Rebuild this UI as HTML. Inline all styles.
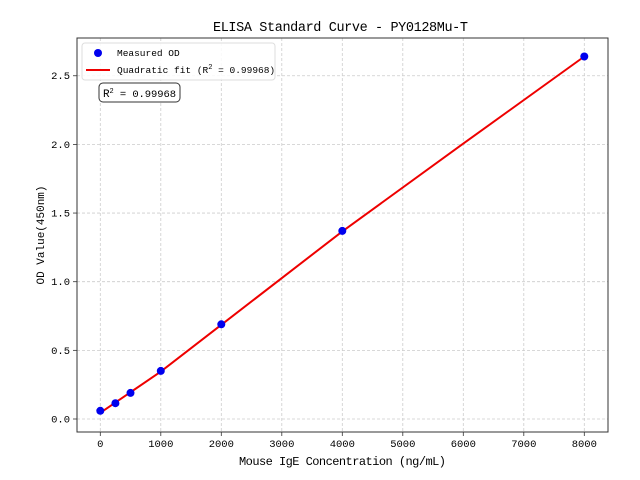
<!DOCTYPE html>
<html><head><meta charset="utf-8"><style>
body{margin:0;background:#fff}
svg{display:block}
text{font-family:"Liberation Mono","WenQuanYi Zen Hei",monospace;fill:#000}
</style></head><body>
<svg width="640" height="480" viewBox="0 0 640 480" xmlns="http://www.w3.org/2000/svg">
<rect width="640" height="480" fill="#fff"/>
<g stroke="#ccc" stroke-width="0.8" stroke-dasharray="3,2">
<line x1="100.3" y1="38" x2="100.3" y2="432"/><line x1="160.8" y1="38" x2="160.8" y2="432"/>
<line x1="221.3" y1="38" x2="221.3" y2="432"/><line x1="281.8" y1="38" x2="281.8" y2="432"/>
<line x1="342.3" y1="38" x2="342.3" y2="432"/><line x1="402.8" y1="38" x2="402.8" y2="432"/>
<line x1="463.3" y1="38" x2="463.3" y2="432"/><line x1="523.8" y1="38" x2="523.8" y2="432"/>
<line x1="584.3" y1="38" x2="584.3" y2="432"/>
<line x1="77" y1="419" x2="608" y2="419"/><line x1="77" y1="350.35" x2="608" y2="350.35"/>
<line x1="77" y1="281.7" x2="608" y2="281.7"/><line x1="77" y1="213.05" x2="608" y2="213.05"/>
<line x1="77" y1="144.4" x2="608" y2="144.4"/><line x1="77" y1="75.75" x2="608" y2="75.75"/>
</g>
<rect x="77" y="38" width="531" height="394" fill="none" stroke="#333" stroke-width="1"/>
<g stroke="#333" stroke-width="0.8">
<line x1="100.3" y1="432" x2="100.3" y2="436"/><line x1="160.8" y1="432" x2="160.8" y2="436"/>
<line x1="221.3" y1="432" x2="221.3" y2="436"/><line x1="281.8" y1="432" x2="281.8" y2="436"/>
<line x1="342.3" y1="432" x2="342.3" y2="436"/><line x1="402.8" y1="432" x2="402.8" y2="436"/>
<line x1="463.3" y1="432" x2="463.3" y2="436"/><line x1="523.8" y1="432" x2="523.8" y2="436"/>
<line x1="584.3" y1="432" x2="584.3" y2="436"/>
<line x1="73" y1="419" x2="77" y2="419"/><line x1="73" y1="350.35" x2="77" y2="350.35"/>
<line x1="73" y1="281.7" x2="77" y2="281.7"/><line x1="73" y1="213.05" x2="77" y2="213.05"/>
<line x1="73" y1="144.4" x2="77" y2="144.4"/><line x1="73" y1="75.75" x2="77" y2="75.75"/>
</g>
<g font-size="10.5" text-anchor="middle">
<text x="100.3" y="447">0</text><text x="160.8" y="447">1000</text><text x="221.3" y="447">2000</text>
<text x="281.8" y="447">3000</text><text x="342.3" y="447">4000</text><text x="402.8" y="447">5000</text>
<text x="463.3" y="447">6000</text><text x="523.8" y="447">7000</text><text x="584.3" y="447">8000</text>
</g>
<g font-size="10.5" text-anchor="end">
<text x="70" y="422.5">0.0</text><text x="70" y="353.8">0.5</text><text x="70" y="285.2">1.0</text>
<text x="70" y="216.5">1.5</text><text x="70" y="147.9">2.0</text><text x="70" y="79.2">2.5</text>
</g>
<text x="239" y="465" font-size="12" textLength="207">Mouse IgE Concentration (ng/mL)</text>
<text x="0" y="0" font-size="11" text-anchor="middle" transform="translate(44,235) rotate(-90)">OD Value(450nm)</text>
<text x="213" y="31" font-size="13.5" textLength="255">ELISA Standard Curve - PY0128Mu-T</text>
<polyline fill="none" stroke="#e00" stroke-width="2" points="100.3,412.8 160.8,371.6 221.3,324.8 342.3,231.4 463.3,143.6 584.3,56.5"/>
<g fill="#0000ee">
<circle cx="100.3" cy="410.8" r="4"/><circle cx="115.4" cy="403.2" r="4"/><circle cx="130.5" cy="392.9" r="4"/>
<circle cx="160.8" cy="370.9" r="4"/><circle cx="221.3" cy="324.3" r="4"/><circle cx="342.3" cy="230.9" r="4"/>
<circle cx="584.3" cy="56.5" r="4"/>
</g>
<rect x="82" y="43" width="193" height="37" rx="3" fill="#fff" fill-opacity="0.85" stroke="#ddd"/>
<circle cx="98" cy="53" r="4" fill="#0000ee"/>
<line x1="86" y1="70" x2="110" y2="70" stroke="#e00" stroke-width="2"/>
<text x="117" y="56" font-size="9.5">Measured OD</text>
<text x="117" y="73" font-size="9.5">Quadratic fit (R<tspan font-size="7" dy="-4">2</tspan><tspan dy="4"> = 0.99968)</tspan></text>
<rect x="99" y="83" width="81" height="19" rx="4" fill="#fff" stroke="#333" stroke-width="1"/>
<text x="103" y="97" font-size="11" textLength="73">R<tspan font-size="7" dy="-4">2</tspan><tspan dy="4" font-size="10.5"> = 0.99968</tspan></text>
</svg>
</body></html>
